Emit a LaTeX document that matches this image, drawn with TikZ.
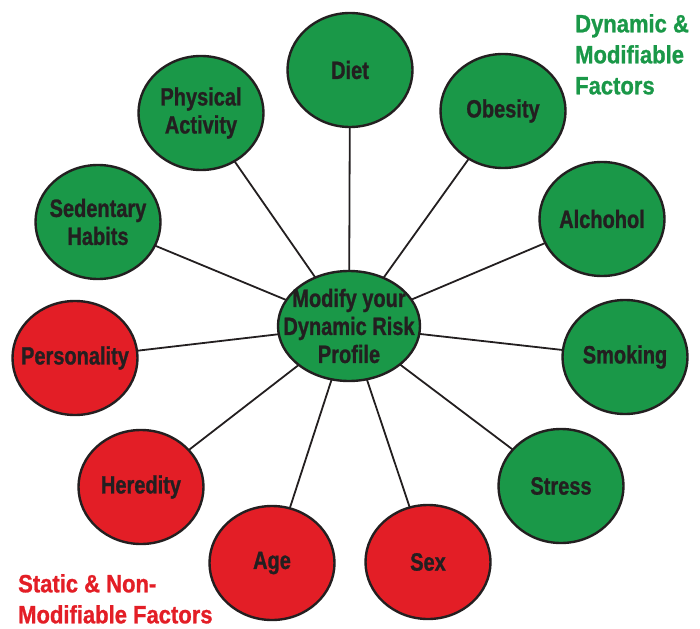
\documentclass[tikz,border=0pt]{standalone}
\usepackage{fontspec}
\setmainfont{Liberation Sans}[FakeStretch=0.8, BoldFeatures={FakeBold=1}]
\newfontfamily\legendfont{Liberation Sans}[FakeStretch=0.88, BoldFeatures={FakeBold=1}]
\usetikzlibrary{shapes.geometric}
\definecolor{dyngreen}{HTML}{1A9848}
\definecolor{statred}{HTML}{E31E26}
\definecolor{inkdark}{HTML}{231F20}

\begin{document}
\begin{tikzpicture}[
  x=1pt, y=-1pt,
  factor/.style={ellipse, draw=inkdark, line width=2.4pt, inner xsep=-12pt, inner ysep=-4pt,
    align=center, minimum width=125pt, minimum height=114pt, text=inkdark,
    font=\fontsize{25}{28}\selectfont\bfseries},
  dynamic/.style={factor, fill=dyngreen},
  static/.style={factor, fill=statred},
  link/.style={draw=inkdark, line width=1.8pt},
  legend/.style={align=left, anchor=north west, inner sep=0pt,
    font=\legendfont\fontsize{25}{31}\selectfont\bfseries}
]
\useasboundingbox (0,0) rectangle (700,628);

% links first, so the ellipses cover their ends
\coordinate (hub) at (349,326);
\coordinate (diet-c) at (350,70);
\coordinate (obesity-c) at (503,111);
\coordinate (activity-c) at (201,113);
\coordinate (habits-c) at (98,222);
\coordinate (alcohol-c) at (602,219);
\coordinate (personality-c) at (75,358);
\coordinate (smoking-c) at (625,357);
\coordinate (heredity-c) at (141,487);
\coordinate (stress-c) at (561,486);
\coordinate (age-c) at (272,563);
\coordinate (sex-c) at (428,562);

\draw[link] (hub) -- (diet-c);
\draw[link] (hub) -- (obesity-c);
\draw[link] (hub) -- (activity-c);
\draw[link] (hub) -- (habits-c);
\draw[link] (hub) -- (alcohol-c);
\draw[link] (hub) -- (personality-c);
\draw[link] (hub) -- (smoking-c);
\draw[link] (hub) -- (heredity-c);
\draw[link] (hub) -- (stress-c);
\draw[link] (hub) -- (age-c);
\draw[link] (hub) -- (sex-c);

% modifiable factors
\node[dynamic, inner xsep=-17pt, minimum width=142pt, minimum height=110pt] (center) at (hub) {Modify your\\Dynamic Risk\\Profile};
\node[dynamic] (diet) at (diet-c) {Diet};
\node[dynamic] (obesity) at (obesity-c) {Obesity};
\node[dynamic] (activity) at (activity-c) {Physical\\Activity};
\node[dynamic] (habits) at (habits-c) {Sedentary\\Habits};
\node[dynamic] (alcohol) at (alcohol-c) {Alchohol};
\node[dynamic] (smoking) at (smoking-c) {Smoking};
\node[dynamic] (stress) at (stress-c) {Stress};

% fixed factors
\node[static] (personality) at (personality-c) {Personality};
\node[static] (heredity) at (heredity-c) {Heredity};
\node[static] (age) at (age-c) {Age};
\node[static] (sex) at (sex-c) {Sex};

\node[legend, text=dyngreen] (dynlabel) at (575,14) {Dynamic \&\\Modifiable\\Factors};
\node[legend, text=statred] (statlabel) at (18,574) {Static \& Non-\\Modifiable Factors};
\end{tikzpicture}
\end{document}
